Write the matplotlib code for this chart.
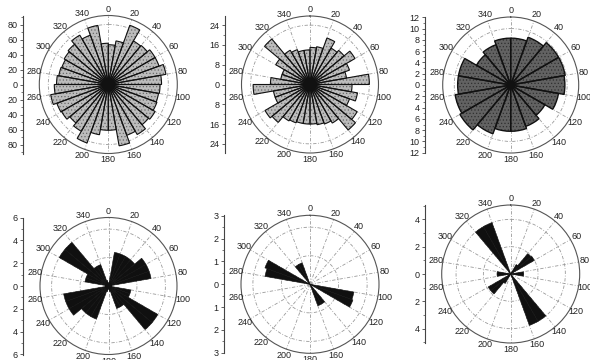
import numpy as np
import matplotlib
matplotlib.use("Agg")
import matplotlib.pyplot as plt
from matplotlib.ticker import MultipleLocator, FuncFormatter

plt.rcParams['font.family'] = ['Liberation Sans', 'DejaVu Sans']
plt.rcParams['hatch.linewidth'] = 0.5

W, H = 590, 360

# ---- DADOS (azimute inicial de cada classe, graus) ----
bins10 = list(range(0, 360, 10))
bins20 = list(range(0, 360, 20))
label_angles = list(range(0, 360, 20))
angle_labels = [str(a) for a in label_angles]

rose1 = [53, 59, 84, 67, 68, 72, 72, 78, 71, 69, 68, 69, 72, 70, 77, 72, 83, 61,
         61, 68, 83, 72, 67, 72, 73, 78, 72, 69, 67, 66, 68, 70, 76, 70, 80, 55]
rose2 = [15, 15.5, 20, 17, 18, 21, 17, 15, 24, 17, 19.5, 17, 22, 24, 18, 17, 16.5, 16,
         16, 16, 16.5, 17, 20, 21, 15, 15, 23, 16, 12, 12, 16, 24, 16, 15, 14, 14]
rose3 = [8.3, 9.0, 9.8, 9.8, 9.6, 8.6, 7.0, 7.8, 8.2,
         8.2, 9.2, 10.4, 10.0, 9.4, 9.4, 7.0, 7.6, 8.3]
rose4 = [0.2, 3.0, 3.0, 3.0, 3.0, 3.8, 3.8, 3.8, 0.3, 0.3, 2.0, 2.0, 5.0, 5.0, 2.1, 2.1, 0.5, 0.3,
         0.2, 0.5, 3.1, 3.1, 3.1, 4.0, 4.0, 4.0, 0.3, 0.3, 2.1, 2.1, 5.0, 5.0, 2.0, 2.0, 0.5, 0.3]
rose5 = [0, 0, 0, 0, 0, 0, 0, 0, 0, 0, 1.95, 2.0, 0, 0, 1.0, 1.0, 0, 0,
         0, 0, 0, 0, 0, 0, 0, 0, 0, 0, 2.0, 2.1, 0, 0, 1.0, 1.0, 0, 0]
rose6 = [0, 0, 0, 0.8, 1.95, 2.0, 0, 0, 0.95, 0.95, 0, 0, 0, 0, 4.0, 4.0, 0, 0,
         0, 0, 0, 0.8, 1.9, 1.9, 0, 0, 1.0, 1.0, 0, 0, 0, 0, 4.0, 4.0, 0, 0]

fig = plt.figure(figsize=(W / 100, H / 100), dpi=100)
fig.patch.set_facecolor("white")


def desenhar_rosa(cx, cy, r, rmax, eixo_x, inicio, valores, largura, estilo,
                  major, minor, aneis):
    # ---- diagrama de roseta ----
    ax = fig.add_axes([(cx - r) / W, 1 - (cy + r) / H, 2 * r / W, 2 * r / H],
                      projection="polar")
    ax.set_theta_zero_location("N")
    ax.set_theta_direction(-1)
    ax.set_ylim(0, rmax)
    ax.set_axisbelow(True)
    theta = np.deg2rad(inicio)
    w = np.deg2rad(largura)
    if estilo == "claro":
        ax.bar(theta, valores, width=w, align="edge", facecolor="#bcbcbc",
               edgecolor="#6a6a6a", hatch=".....", linewidth=0, zorder=2)
        ax.bar(theta, valores, width=w, align="edge", fill=False,
               edgecolor="#111111", linewidth=0.8, zorder=3)
    elif estilo == "escuro":
        ax.bar(theta, valores, width=w, align="edge", facecolor="#626262",
               edgecolor="#303030", hatch=".....", linewidth=0, zorder=2)
        ax.bar(theta, valores, width=w, align="edge", fill=False,
               edgecolor="#111111", linewidth=1.0, zorder=3)
    else:
        ax.bar(theta, valores, width=w, align="edge", facecolor="#101010",
               edgecolor="#101010", linewidth=0.4, zorder=2)
    ax.set_thetagrids(label_angles, [""] * len(label_angles))
    ax.set_yticks(aneis)
    ax.set_yticklabels([])
    ax.grid(True, linestyle=(0, (4, 2, 1, 2)), color="#9a9a9a", linewidth=0.6)
    ax.spines["polar"].set_color("#555555")
    ax.spines["polar"].set_linewidth(0.8)
    # rótulos de azimute logo fora do círculo
    r_txt = rmax * (r + 6.5) / r
    for a, lab in zip(label_angles, angle_labels):
        ax.text(np.deg2rad(a), r_txt, lab, ha="center", va="center",
                fontsize=6.5, color="#222222", clip_on=False)

    # ---- escala linear ----
    sax = fig.add_axes([eixo_x / W, 1 - (cy + r) / H, 0.02, 2 * r / H])
    sax.set_ylim(-rmax, rmax)
    sax.patch.set_visible(False)
    for s in ["top", "right", "bottom"]:
        sax.spines[s].set_visible(False)
    sax.spines["left"].set_color("#444444")
    sax.spines["left"].set_linewidth(0.8)
    sax.set_xticks([])
    sax.yaxis.set_major_locator(MultipleLocator(major))
    sax.yaxis.set_minor_locator(MultipleLocator(minor))
    sax.yaxis.set_major_formatter(FuncFormatter(lambda v, p: f"{abs(v):g}"))
    sax.tick_params(axis="y", which="major", labelsize=6.5, labelcolor="#222222",
                    length=2.5, width=0.6, pad=1.5, color="#444444")
    sax.tick_params(axis="y", which="minor", length=1.5, width=0.5, color="#444444")


desenhar_rosa(108.3, 84.5, 69, 92, 23.3, bins10, rose1, 10, "claro", 20, 10, [40, 80])
desenhar_rosa(310, 84.5, 68.5, 27.7, 225, bins10, rose2, 10, "claro", 8, 4, [12, 24])
desenhar_rosa(510.7, 85, 68, 12.05, 425, bins20, rose3, 20, "escuro", 2, 1, [5, 10])
desenhar_rosa(108.5, 286, 68.5, 6.02, 23.3, bins10, rose4, 10, "preto", 2, 1, [2.5, 5])
desenhar_rosa(310, 284.3, 69, 3.02, 224.3, bins10, rose5, 10, "preto", 1, 0.5, [1.25, 2.5])
desenhar_rosa(510.7, 274, 69, 5.05, 425, bins10, rose6, 10, "preto", 2, 1, [2, 4])

fig.savefig("out.png", dpi=100, facecolor="white")
